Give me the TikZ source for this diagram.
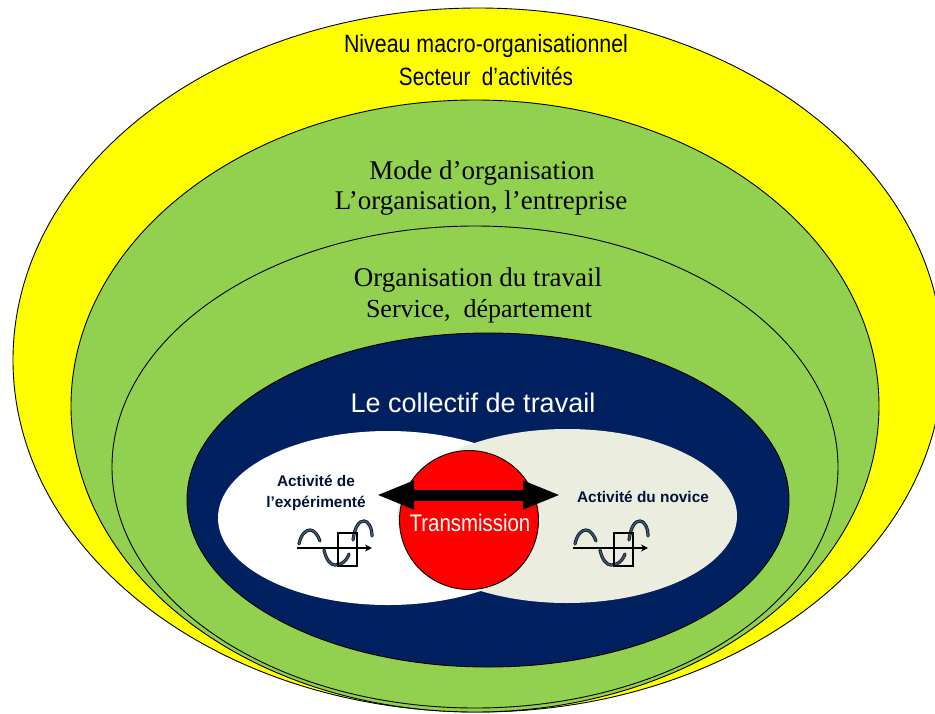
\documentclass[tikz,border=0pt]{standalone}
\usepackage{graphicx}
\usepackage{fontspec}
\setmainfont{Liberation Serif}
\setsansfont{Liberation Sans}
\usetikzlibrary{shapes.geometric,arrows.meta}
\definecolor{cyellow}{HTML}{FFFF00}
\definecolor{cgreen}{HTML}{92D050}
\definecolor{cnavy}{HTML}{002060}
\definecolor{cbeige}{HTML}{EBEEDE}
\definecolor{cwave}{HTML}{3B5675}
\newcommand{\squeezed}[2]{\scalebox{#1}[1]{#2}}
\tikzset{
  zone/.style={ellipse,draw=black,line width=0.9pt,inner sep=0pt,outer sep=0pt},
  sanslabel/.style={font=\sffamily\fontsize{#1}{#1}\selectfont,inner sep=0pt,align=center},
  seriflabel/.style={font=\rmfamily\fontsize{#1}{#1}\selectfont,inner sep=0pt,align=center},
  smalllabel/.style={font=\sffamily\bfseries\fontsize{15.4}{21}\selectfont,text=cnavy!60!black,inner sep=0pt,align=center},
  waveline/.style={line width=3.2pt,black!75!cwave,line cap=round,postaction={draw=cwave,line width=1.6pt}},
  pics/wavesym/.style={code={
    \draw[waveline] (2,-4) .. controls (4,-14) and (9,-18) .. (13,-18)
       .. controls (17,-18) and (21,-13) .. (23,-7);
    \draw[waveline] (27,2) .. controls (29,11) and (33,17) .. (38,17)
       .. controls (44,17) and (49,14) .. (52,6);
    \draw[waveline] (56,-8) .. controls (58,-22) and (62,-27) .. (67,-27)
       .. controls (71,-27) and (75,-21) .. (75,-12);
    \draw[line width=1.8pt] (41,-15) rectangle (60,18);
    \draw[line width=1.1pt,-{Stealth[length=7pt,width=7pt]}] (0,0) -- (75,0);
  }}
}
\begin{document}
\begin{tikzpicture}[x=1pt,y=-1pt]
\useasboundingbox (0,0) rectangle (935,713);
\clip (0,0) rectangle (935,713);
\node[zone,fill=cyellow,minimum width=930pt,minimum height=704pt] (macro) at (478,360) {};
\node[zone,fill=cgreen,minimum width=808pt,minimum height=612pt] (mode) at (475,406) {};
\node[zone,fill=cgreen,minimum width=726pt,minimum height=482pt] (service) at (475,467) {};
\node[zone,fill=cnavy,minimum width=602pt,minimum height=334pt] (collectif) at (488,500) {};
\node[zone,fill=white,draw=none,minimum width=340pt,minimum height=174pt] (expert) at (388,518) {};
\node[zone,fill=cbeige,draw=none,minimum width=340pt,minimum height=174pt] (novice) at (567,516) {};
\node[circle,draw=black,line width=0.9pt,fill=red,minimum size=139pt,inner sep=0pt] (trans) at (469,520) {};
\node[sanslabel=25] (t1) at (486,46) {\squeezed{.855}{Niveau macro-organisationnel}};
\node[sanslabel=25] (t2) at (486,76) {\squeezed{.83}{Secteur\ \ d’activités}};
\node[seriflabel=27] (t3) at (482,173) {Mode d’organisation};
\node[seriflabel=27] (t4) at (481,203) {L’organisation, l’entreprise};
\node[seriflabel=27] (t5) at (478,280) {Organisation du travail};
\node[seriflabel=26] (t6) at (479,311) {Service,\ \ département};
\node[sanslabel=27,text=white] (t7) at (473,403) {Le collectif de travail};
\node[sanslabel=24,text=white] (t8) at (470,523) {\squeezed{.85}{Transmission}};
\node[smalllabel] (t9) at (316,492.5) {Activité de\\l’expérimenté};
\node[smalllabel] (t10) at (643,497) {Activité du novice};
\coordinate (aL) at (376,495);
\coordinate (aR) at (561,495);
\draw[line width=11pt,{Triangle[length=38pt,width=26pt]}-{Triangle[length=38pt,width=26pt]}] (aL) -- (aR);
\pic at (297,548) {wavesym};
\pic at (573,548) {wavesym};
\end{tikzpicture}
\end{document}
